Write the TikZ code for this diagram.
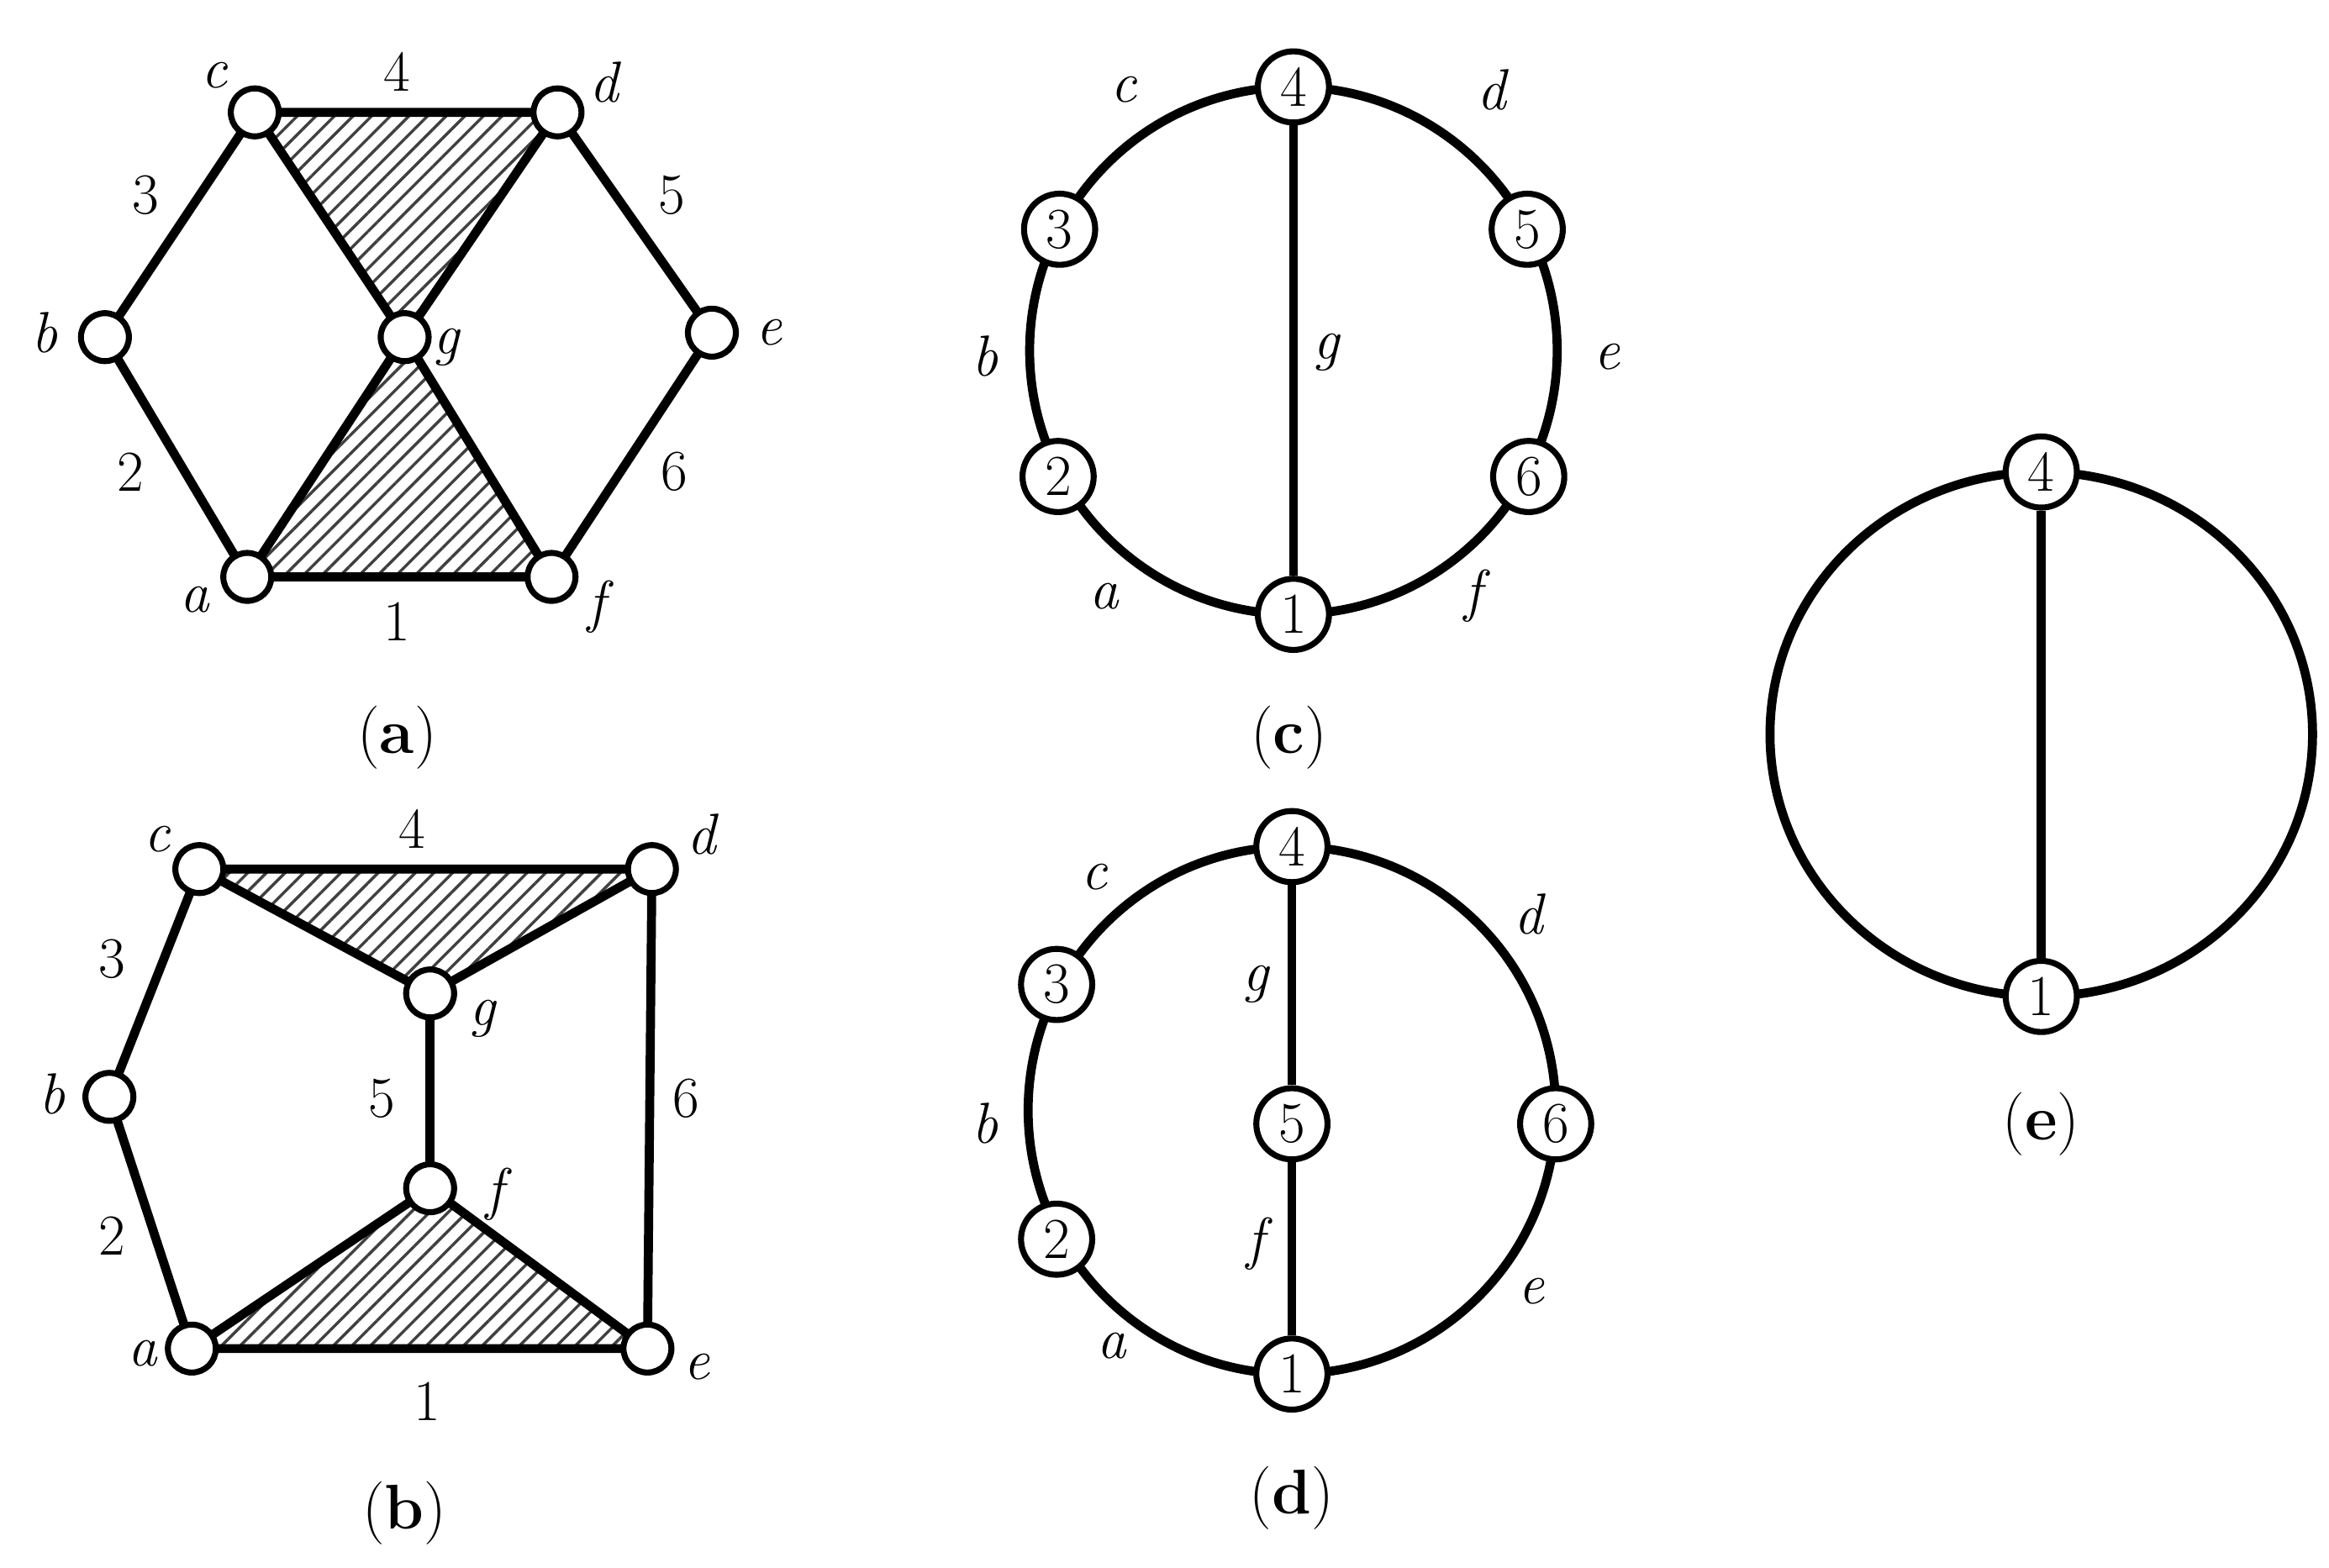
\documentclass[tikz,border=0pt]{standalone}
\usetikzlibrary{patterns.meta}
\begin{document}
\begin{tikzpicture}[x=0.02cm,y=-0.02cm,
  edge/.style={line width=0.12cm},
  vs/.style={circle,draw,fill=white,line width=0.08cm,minimum size=0.64cm,inner sep=0pt},
  vl/.style={circle,draw,fill=white,line width=0.08cm,minimum size=0.95cm,inner sep=0pt,font=\fontsize{22}{24}\selectfont},
  lab/.style={font=\fontsize{22}{24}\selectfont\itshape},
  num/.style={font=\fontsize{22}{24}\selectfont},
  captext/.style={font=\fontsize{24}{28}\selectfont},
  hat/.style={pattern={Lines[angle=45,distance=5pt,line width=1.1pt]},pattern color=black!75}]
\useasboundingbox (0,0) rectangle (1554,1046);
% (a)
\coordinate (ac) at (170,75); \coordinate (ad) at (372,75); \coordinate (ab) at (70,225);
\coordinate (ag) at (270,225); \coordinate (ae) at (475,222); \coordinate (aa) at (165,385);
\coordinate (af) at (368,385);
\fill[hat] (ac)--(ad)--(ag)--cycle; \fill[hat] (ag)--(aa)--(af)--cycle;
\draw[edge] (ac)--(ad)--(ae)--(af)--(aa)--(ab)--(ac)--(ag)--(af);
\draw[edge] (ad)--(ag)--(aa);
\foreach \p in {ac,ad,ab,ag,ae,aa,af} \node[vs] (n\p) at (\p) {};
\node[num] (t1) at (265,48) {4}; \node[num] (t2) at (97,130) {3}; \node[num] (t3) at (448,130) {5};
\node[num] (t4) at (87,315) {2}; \node[num] (t5) at (450,315) {6}; \node[num] (t6) at (265,415) {1};
\node[lab] (l1) at (143,50) {c}; \node[lab] (l2) at (403,55) {d}; \node[lab] (l3) at (30,222) {b};
\node[lab] (l4) at (298,232) {g}; \node[lab] (l5) at (513,222) {e}; \node[lab] (l6) at (130,400) {a};
\node[lab] (l7) at (398,405) {f};
\node[captext] (capa) at (265,492) {(\textbf{a})};
% (b)
\coordinate (bc) at (133,580); \coordinate (bd) at (435,580); \coordinate (bg) at (287,663);
\coordinate (bb) at (73,732); \coordinate (bf) at (287,793); \coordinate (ba) at (128,900);
\coordinate (be) at (432,900);
\fill[hat] (bc)--(bd)--(bg)--cycle; \fill[hat] (ba)--(be)--(bf)--cycle;
\draw[edge] (bc)--(bd)--(be)--(ba)--(bb)--(bc)--(bg)--(bd);
\draw[edge] (bg)--(bf); \draw[edge] (ba)--(bf)--(be);
\foreach \p in {bc,bd,bg,bb,bf,ba,be} \node[vs] (n\p) at (\p) {};
\node[num] (u1) at (275,553) {4}; \node[num] (u2) at (75,640) {3}; \node[num] (u3) at (255,733) {5};
\node[num] (u4) at (458,733) {6}; \node[num] (u5) at (75,825) {2}; \node[num] (u6) at (285,935) {1};
\node[lab] (m1) at (105,560) {c}; \node[lab] (m2) at (468,557) {d}; \node[lab] (m3) at (35,730) {b};
\node[lab] (m4) at (322,680) {g}; \node[lab] (m5) at (330,797) {f}; \node[lab] (m6) at (95,903) {a};
\node[lab] (m7) at (465,912) {e};
\node[captext] (capb) at (270,1010) {(\textbf{b})};
% (c)
\coordinate (cc) at (863,234);
\draw[edge] (cc) circle (176);
\path (cc) ++(0,-176) node[vl] (c4) {4};
\path (cc) ++(0,176) node[vl] (c1) {1};
\path (cc) ++(-156,-81) node[vl] (c3) {3};
\path (cc) ++(156,-81) node[vl] (c5) {5};
\path (cc) ++(-157,84) node[vl] (c2) {2};
\path (cc) ++(157,84) node[vl] (c6) {6};
\draw[edge] (c4)--(c1);
\node[lab] (k1) at (750,60) {c}; \node[lab] (k2) at (995,60) {d}; \node[lab] (k3) at (657,238) {b};
\node[lab] (k4) at (885,235) {g}; \node[lab] (k5) at (1072,238) {e}; \node[lab] (k6) at (737,398) {a};
\node[lab] (k7) at (983,398) {f};
\node[captext] (capc) at (860,492) {(\textbf{c})};
% (d)
\coordinate (dc) at (862,741);
\draw[edge] (dc) circle (176);
\path (dc) ++(0,-176) node[vl] (d4) {4};
\path (dc) ++(0,176) node[vl] (d1) {1};
\path (dc) ++(-157,-84) node[vl] (d3) {3};
\path (dc) ++(-157,86) node[vl] (d2) {2};
\path (dc) ++(176,9) node[vl] (d6) {6};
\path (dc) ++(0,9) node[vl] (d5) {5};
\draw[edge] (d4)--(d5)--(d1);
\node[lab] (e1) at (730,585) {c}; \node[lab] (e2) at (1020,610) {d}; \node[lab] (e3) at (838,657) {g};
\node[lab] (e4) at (657,750) {b}; \node[lab] (e5) at (838,830) {f}; \node[lab] (e6) at (1022,862) {e};
\node[lab] (e7) at (742,898) {a};
\node[captext] (capd) at (862,1000) {(\textbf{d})};
% (e)
\coordinate (ec) at (1362,490);
\draw[edge] (ec) ellipse (181 and 175);
\path (ec) ++(0,-175) node[vl] (f4) {4};
\path (ec) ++(0,175) node[vl] (f1) {1};
\draw[edge] (f4)--(f1);
\node[captext] (cape) at (1362,750) {(\textbf{e})};
\end{tikzpicture}
\end{document}
